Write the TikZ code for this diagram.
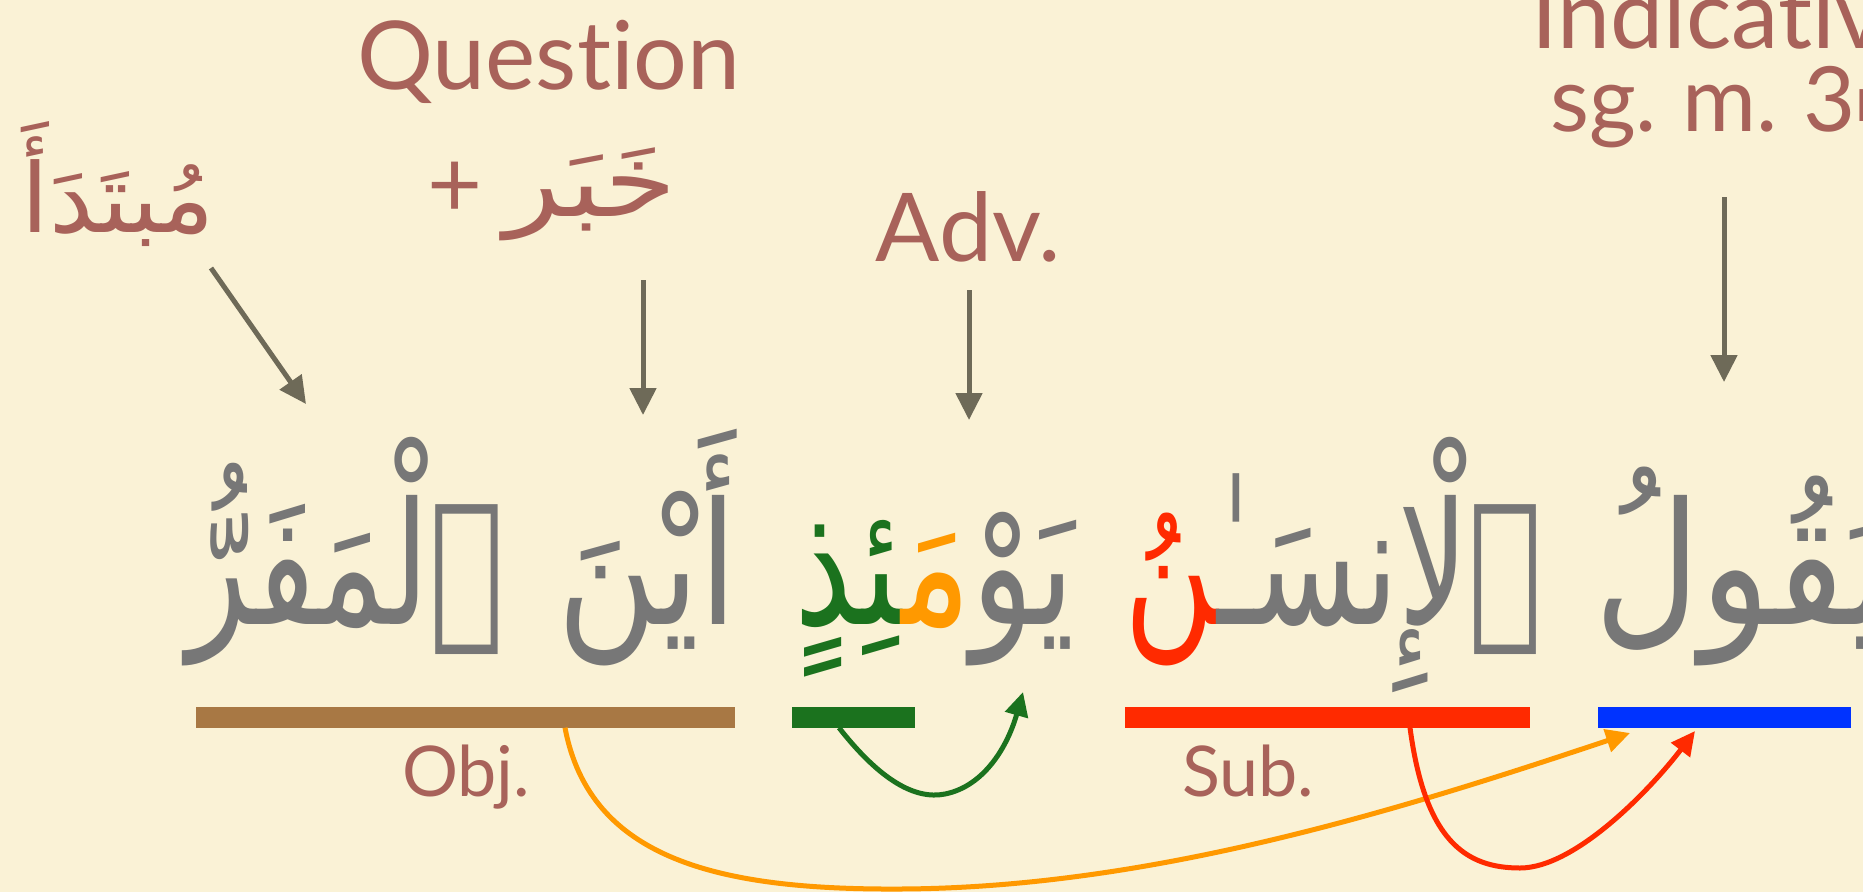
\documentclass[tikz,border=0pt]{standalone}
\usepackage{fontspec}
\usepackage{graphicx}
\setmainfont{Lato}[Ligatures={NoCommon}]
\newfontfamily\arabicfont[Script=Arabic]{DejaVu Sans}
\usetikzlibrary{arrows.meta}
\definecolor{bgcol}{HTML}{FAF2D6}
\definecolor{labelcol}{HTML}{A8625A}
\definecolor{arrowgray}{HTML}{6E6A58}
\definecolor{maingray}{HTML}{777777}
\definecolor{barbrown}{HTML}{A87844}
\definecolor{ggreen}{HTML}{1B721E}
\definecolor{oorange}{HTML}{FF9900}
\definecolor{rred}{HTML}{FF2A00}
\definecolor{bblue}{HTML}{0033FF}
\newcommand{\zwj}{^^^^200d}
\begin{document}
\begin{tikzpicture}[x=1pt,y=-1pt,
  lbl/.style={inner sep=0pt, text=labelcol, font=\fontsize{95}{100}\selectfont},
  smalllbl/.style={inner sep=0pt, text=labelcol, font=\fontsize{70}{75}\selectfont},
  arlbl/.style={inner sep=0pt, text=labelcol, anchor=base},
  mainword/.style={inner sep=0pt, anchor=base, text=maingray, font=\arabicfont\fontsize{170}{180}\selectfont},
  pointer/.style={draw=arrowgray, line width=5pt, -{Triangle[length=27pt,width=26pt]}},
  bar/.style={rectangle, inner sep=0pt, minimum height=21pt},
  link/.style={line width=5pt, -{Triangle[length=24pt,width=23pt]}}
]
\fill[bgcol] (0,0) rectangle (1863,892);
\useasboundingbox (0,0) rectangle (1863,892);

% labels
\node[lbl, anchor=base] (question) at (549,89) {Question};
\node[lbl, anchor=center] (plus) at (455,190) {+};
\node[arlbl, font=\arabicfont\fontsize{100}{110}\selectfont] (khabar) at (591,216) {\resizebox{172pt}{\height}{خَبَر}};
\node[arlbl, font=\arabicfont\fontsize{96}{110}\selectfont] (mubtada) at (118,232) {\resizebox{193pt}{\height}{مُبتَدَأَ}};
\node[lbl, anchor=base] (adv) at (968,261) {Adv.};
\node[lbl, anchor=base west] (indic) at (1531,48) {Indicative};
\node[lbl, anchor=base west, font=\fontsize{90}{95}\selectfont] (sgm) at (1550,131) {\spaceskip=0.2em sg. m. 3\textsuperscript{rd}};

% pointer arrows
\coordinate (mubS) at (211,268);
\coordinate (mubE) at (306,404);
\coordinate (khaS) at (643,280);
\coordinate (khaE) at (643,415);
\coordinate (advS) at (969,290);
\coordinate (advE) at (969,420);
\coordinate (indS) at (1724,197);
\coordinate (indE) at (1724,382);
\draw[pointer] (mubS) -- (mubE);
\draw[pointer] (khaS) -- (khaE);
\draw[pointer] (advS) -- (advE);
\draw[pointer] (indS) -- (indE);

% main verse, word by word (right to left)
\node[mainword] (w5) at (1742,624) {\resizebox{296pt}{\height}{يَقُولُ}};
\node[mainword] (w4) at (1333.5,624) {\resizebox{419pt}{\height}{\textcolor{rred}{\zwj نُ}ٱلْإِنسَـٰ\zwj}};
\node[mainword] (w3) at (934.5,624) {\resizebox{281pt}{\height}{\textcolor{ggreen}{\zwj ئِذٍ}\textcolor{oorange}{مَ\zwj}يَوْ}};
\node[mainword] (w2) at (647,624) {\resizebox{180pt}{\height}{أَيْنَ}};
\node[mainword] (w1) at (345.5,624) {\resizebox{317pt}{\height}{ٱلْمَفَرُّ}};

% bars
\node[bar, fill=barbrown, minimum width=539pt] (objbar) at (465.5,717) {};
\node[bar, fill=ggreen, minimum width=123pt] (advbar) at (853.5,717) {};
\node[bar, fill=rred, minimum width=405pt] (subbar) at (1327.5,717) {};
\node[bar, fill=bblue, minimum width=253pt] (verbbar) at (1724.5,717) {};

\node[smalllbl, anchor=base] (obj) at (466,796) {Obj.};
\node[smalllbl, anchor=base] (sub) at (1248,796) {Sub.};

% links
\coordinate (orTip) at (1630,733);
\coordinate (rdTip) at (1695,731);
\coordinate (grTip) at (1023,692);
\draw[link, color=oorange] ([xshift=99.5pt]objbar.south) .. controls (590,860) and (720,890) .. (900,889) .. controls (1150,888) and (1400,810) .. (orTip);
\draw[link, color=rred] ([xshift=82.5pt]subbar.south) .. controls (1425,840) and (1465,868) .. (1520,868) .. controls (1575,868) and (1650,790) .. (rdTip);
\draw[link, color=ggreen] ([xshift=-14.5pt]advbar.south) .. controls (880,780) and (915,800) .. (945,794) .. controls (985,786) and (1008,745) .. (grTip);
\end{tikzpicture}
\end{document}
